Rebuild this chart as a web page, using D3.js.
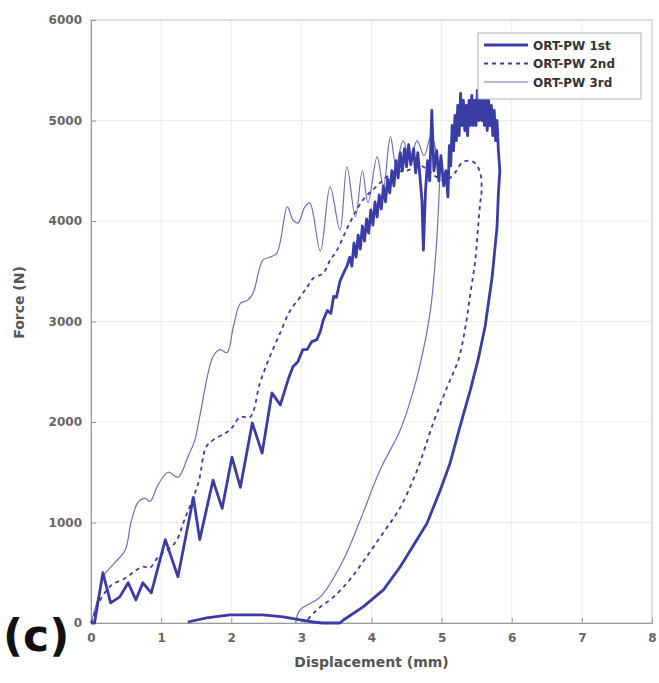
<!DOCTYPE html>
<html>
<head>
<meta charset="utf-8">
<script src="https://cdn.jsdelivr.net/npm/d3@7"></script>
<style>
  body { margin: 0; background: #fff; }
  text { font-family: "DejaVu Sans", sans-serif; font-weight: bold; }
</style>
</head>
<body>
<div id="chart"></div>
<script>
// series names
var seriesNames = ["ORT-PW 1st", "ORT-PW 2nd", "ORT-PW 3rd"];

// 1st cycle: displacement (mm) / force (N)
var x1 = [0, 0.05, 0.17, 0.28, 0.41, 0.53, 0.64, 0.74, 0.86, 1.06, 1.24, 1.46, 1.55, 1.74, 1.87, 2.01, 2.13, 2.3, 2.44, 2.58, 2.7, 2.81, 2.88, 2.95, 3.02, 3.08, 3.15, 3.22, 3.27, 3.31, 3.37, 3.42, 3.46, 3.5, 3.55, 3.6, 3.65,
  3.69, 3.72, 3.75, 3.78, 3.81, 3.84, 3.87, 3.9, 3.93, 3.96, 3.99, 4.02, 4.05, 4.08, 4.11, 4.14, 4.17, 4.2, 4.23, 4.26, 4.29, 4.32, 4.35, 4.38, 4.41, 4.44, 4.47, 4.5, 4.53, 4.56, 4.6, 4.63, 4.66, 4.69, 4.72, 4.74, 4.77, 4.8, 4.83, 4.86, 4.89, 4.93, 4.96, 4.99, 5.03, 5.06, 5.09,
  5.11, 5.13, 5.15, 5.17, 5.19, 5.21, 5.23, 5.25, 5.27, 5.29, 5.31, 5.33, 5.35, 5.37, 5.39, 5.41, 5.43, 5.45, 5.47, 5.49, 5.51, 5.53, 5.55, 5.57, 5.59, 5.61, 5.63, 5.65, 5.67, 5.69, 5.71, 5.73, 5.75, 5.77, 5.79, 5.81, 5.83,
  5.81, 5.79, 5.72, 5.62, 5.52, 5.41, 5.26, 5.12, 4.98, 4.79, 4.65, 4.41, 4.17, 3.88, 3.6, 3.55, 3.3, 3.17, 2.98, 2.74, 2.45, 1.98, 1.65, 1.38];
var y1 = [0, 0, 500, 200, 260, 400, 230, 400, 300, 830, 460, 1250, 830, 1420, 1140, 1650, 1350, 1990, 1690, 2290, 2170, 2420, 2550, 2600, 2720, 2720, 2800, 2820, 2900, 3010, 3110, 3080, 3250, 3240, 3400, 3480, 3550,
  3640, 3550, 3780, 3640, 3860, 3720, 3950, 3800, 4020, 3880, 4110, 3960, 4190, 4040, 4260, 4120, 4350, 4190, 4420, 4280, 4500, 4350, 4600, 4430, 4680, 4500, 4720, 4540, 4760, 4560, 4720, 4480, 4680, 4450, 4200, 3710, 4300, 4600, 4400, 5100, 4500, 4700, 4400, 4650, 4350, 4500, 4240,
  4750, 4550, 4950, 4700, 5050, 4800, 5150, 4850, 5270, 4950, 5200, 4900, 5150, 4850, 5200, 4950, 5250, 4950, 5200, 4950, 5300, 5000, 5500, 5000, 5200, 4950, 5250, 4900, 5200, 4950, 5150, 4850, 5100, 4800, 5000, 4700, 4500,
  4280, 3940, 3440, 2950, 2620, 2320, 1950, 1590, 1320, 990, 830, 560, 330, 160, 30, 0, 0, 10, 30, 60, 80, 80, 50, 10];

// 2nd cycle
var x2 = [0, 0.15, 0.3, 0.5, 0.63, 0.74, 0.84, 0.96, 1.2, 1.34, 1.53, 1.64, 1.74, 1.98, 2.13, 2.27, 2.41, 2.55, 2.7, 2.84, 2.98, 3.08, 3.17, 3.31, 3.41, 3.5, 3.69, 3.88, 4.08, 4.3, 4.5, 4.7, 4.9, 5.05, 5.19, 5.29, 5.38, 5.47, 5.55, 5.57,
  5.55, 5.52, 5.48, 5.41, 5.34, 5.24, 5.08, 4.88, 4.65, 4.41, 4.17, 3.93, 3.69, 3.46, 3.22, 3.05];
var y2 = [0, 250, 380, 450, 520, 560, 550, 660, 800, 1040, 1390, 1750, 1820, 1920, 2050, 2050, 2390, 2650, 2890, 3110, 3240, 3340, 3430, 3480, 3610, 3700, 3980, 4210, 4350, 4480, 4500, 4550, 4450, 4400, 4480, 4580, 4600, 4580, 4480, 4300,
  4180, 3940, 3610, 3280, 2950, 2620, 2350, 1990, 1520, 1150, 900, 660, 430, 260, 130, 0];

// 3rd cycle
var x3 = [0, 0.1, 0.17, 0.34, 0.49, 0.57, 0.67, 0.77, 0.84, 0.96, 1.1, 1.24, 1.38, 1.48, 1.55, 1.74, 1.84, 1.94, 2.03, 2.13, 2.23, 2.31, 2.45, 2.55, 2.65, 2.8, 2.88, 2.95, 3.05, 3.12, 3.27, 3.41, 3.55, 3.65, 3.77, 3.87, 3.95, 4.08, 4.17, 4.27, 4.35, 4.45, 4.55, 4.65, 4.75, 4.85, 4.92, 4.97,
  4.96, 4.91, 4.84, 4.74, 4.6, 4.41, 4.12, 3.84, 3.6, 3.27, 2.98, 2.92];
var y3 = [0, 250, 460, 600, 730, 1000, 1200, 1240, 1210, 1380, 1500, 1450, 1650, 1820, 2050, 2650, 2720, 2690, 2950, 3180, 3210, 3280, 3610, 3640, 3680, 4140, 4010, 3980, 4140, 4180, 3700, 4340, 3910, 4540, 4040, 4500, 4180, 4640, 4340, 4840, 4550, 4800, 4600, 4800, 4650, 4850, 4700, 4500,
  4210, 3610, 3110, 2720, 2320, 1920, 1520, 1025, 630, 260, 130, 0];

// axis ticks
var xTicks = [0, 1, 2, 3, 4, 5, 6, 7, 8];
var yTicks = [0, 1000, 2000, 3000, 4000, 5000, 6000];

var width = 659, height = 683;
var margin = {left: 91, top: 20, right: 7, bottom: 60};

var svg = d3.select("#chart").append("svg")
  .attr("width", width)
  .attr("height", height);

var x = d3.scaleLinear().domain([0, 8]).range([margin.left, width - margin.right]);
var y = d3.scaleLinear().domain([0, 6000]).range([height - margin.bottom, margin.top]);

// grid
svg.append("g").selectAll("line").data(xTicks).enter().append("line")
  .attr("x1", d => x(d)).attr("x2", d => x(d))
  .attr("y1", y(0)).attr("y2", y(6000))
  .attr("stroke", "#ebebeb").attr("stroke-width", 1);
svg.append("g").selectAll("line").data(yTicks).enter().append("line")
  .attr("x1", x(0)).attr("x2", x(8))
  .attr("y1", d => y(d)).attr("y2", d => y(d))
  .attr("stroke", "#ebebeb").attr("stroke-width", 1);

// frame
svg.append("rect")
  .attr("x", x(0)).attr("y", y(6000))
  .attr("width", x(8) - x(0)).attr("height", y(0) - y(6000))
  .attr("fill", "none").attr("stroke", "#c8c8c8");

var xAxis = svg.append("g")
  .attr("transform", "translate(0," + y(0) + ")")
  .call(d3.axisBottom(x).tickValues(xTicks).tickSize(-5).tickPadding(10).tickFormat(d3.format("d")));
var yAxis = svg.append("g")
  .attr("transform", "translate(" + x(0) + ",0)")
  .call(d3.axisLeft(y).tickValues(yTicks).tickSize(-5).tickPadding(9).tickFormat(d3.format("d")));

[xAxis, yAxis].forEach(function(a) {
  a.select(".domain").attr("stroke", "#9a9a9a");
  a.selectAll(".tick line").attr("stroke", "#9a9a9a");
  a.selectAll(".tick text").attr("fill", "#666").style("font-size", "12px")
    .style("font-family", "DejaVu Sans").style("font-weight", "bold");
});

// curves
var series = [
  {pts: d3.zip(x1, y1), color: "#3a3da6", w: 2.8, dash: null, curve: d3.curveLinear},
  {pts: d3.zip(x2, y2), color: "#3a3da6", w: 1.8, dash: "4,4", curve: d3.curveCatmullRom.alpha(0.5)},
  {pts: d3.zip(x3, y3), color: "#6d70c2", w: 1.2, dash: null, curve: d3.curveCatmullRom.alpha(0.5)}
];
series.slice().reverse().forEach(function(s) {
  var line = d3.line().x(d => x(d[0])).y(d => y(d[1])).curve(s.curve);
  svg.append("path")
    .attr("d", line(s.pts))
    .attr("fill", "none")
    .attr("stroke", s.color)
    .attr("stroke-width", s.w)
    .attr("stroke-linejoin", "round")
    .attr("stroke-dasharray", s.dash);
});

// legend
var lg = svg.append("g").attr("transform", "translate(478,33)");
lg.append("rect").attr("width", 163).attr("height", 66)
  .attr("fill", "#fff").attr("stroke", "#b0b0b0");
series.forEach(function(s, i) {
  var yy = 12 + i * 18.5;
  lg.append("line").attr("x1", 6).attr("x2", 50).attr("y1", yy).attr("y2", yy)
    .attr("stroke", s.color).attr("stroke-width", s.w).attr("stroke-dasharray", s.dash);
  lg.append("text").attr("x", 55).attr("y", yy + 4.5)
    .attr("fill", "#333").style("font-size", "12px").text(seriesNames[i]);
});

// labels
svg.append("text")
  .attr("x", (x(0) + x(8)) / 2).attr("y", 667)
  .attr("text-anchor", "middle").attr("fill", "#555")
  .style("font-size", "14px").text("Displacement (mm)");
svg.append("text")
  .attr("transform", "translate(24," + (y(3000) - 19) + ") rotate(-90)")
  .attr("text-anchor", "middle").attr("fill", "#555")
  .style("font-size", "14px").text("Force (N)");
svg.append("text")
  .attr("x", 3).attr("y", 651)
  .attr("fill", "#111").style("font-size", "44px").text("(c)");
</script>
</body>
</html>
